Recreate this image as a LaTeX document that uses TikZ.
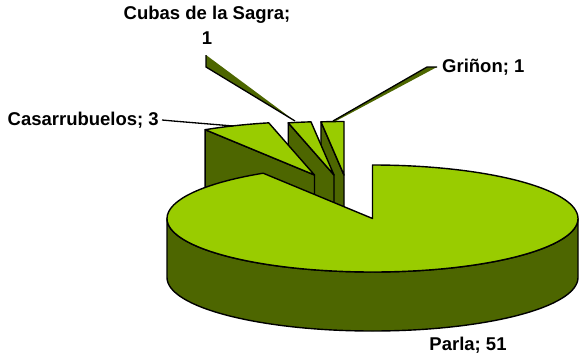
\documentclass[tikz,border=0pt]{standalone}
\usepackage{fontspec}
\setmainfont{Liberation Sans}
\usetikzlibrary{calc}

\definecolor{pielight}{HTML}{99CC00}
\definecolor{piedark}{HTML}{4D6600}

\tikzset{
  lite/.style={fill=pielight, draw=black, line width=1.4pt, line join=round},
  dark/.style={fill=piedark, draw=black, line width=1.4pt, line join=round},
  leader/.style={draw=black, line width=1.3pt, line join=round},
  lbl/.style={font=\bfseries\fontsize{18.5}{25}\selectfont, inner sep=0pt, align=center}
}

% apex, start angle, end angle of an exploded slice
\newcommand{\pieslice}[3]{%
  \draw[dark] (#1) -- ++(#3:205.5 and 53.5) -- ++(0,-59) -- ($(#1)+(0,-59)$) -- cycle;
  \draw[lite] (#1) -- ++(#2:205.5 and 53.5) arc[start angle=#2, end angle=#3, x radius=205.5, y radius=53.5] -- cycle;
}

\begin{document}
\begin{tikzpicture}[x=1pt, y=1pt]
\useasboundingbox (0,0) rectangle (580,357);

\coordinate (ctr) at (372.5,138.5);
\coordinate (griA) at (344,182);
\coordinate (cubA) at (334,182);
\coordinate (casA) at (314.5,182);

% small slices, back to front
\pieslice{griA}{90}{96.43}
\pieslice{cubA}{96.43}{102.86}
\pieslice{casA}{102.86}{122.14}

% Parla
\draw[dark] (ctr) ++(180:205.5 and 53.5) arc[start angle=180, end angle=360, x radius=205.5, y radius=53.5]
  -- ++(0,-59) arc[start angle=360, end angle=180, x radius=205.5, y radius=53.5] -- cycle;
\draw[lite] (ctr) -- ++(0,53.5) arc[start angle=90, end angle=-237.86, x radius=205.5, y radius=53.5] -- cycle;

% labels
\node[lbl, anchor=east] (cas) at (159,237) {Casarrubuelos; 3};
\node[lbl] (cub) at (207,331.5) {Cubas de la Sagra;\\1};
\node[lbl, anchor=west] (gri) at (442,290) {Griñon; 1};
\node[lbl] (par) at (468,12) {Parla; 51};

% leaders
\coordinate (casKnee) at (173,236);
\coordinate (casEnd) at (233,231);
\draw[leader] ([xshift=3pt]cas.east) -- (casKnee) -- (casEnd);

\coordinate (cubTop) at (206,302);
\coordinate (cubKnee) at (206,290);
\coordinate (cubEnd) at (295,236);
\fill[piedark] (cubTop) -- (cubKnee) -- (cubEnd) -- cycle;
\draw[leader] (cubTop) -- (cubKnee) -- (cubEnd);

\coordinate (griKnee) at (427,290);
\coordinate (griEnd) at (333,236);
\fill[piedark] ([xshift=-5pt]gri.west) -- (griKnee) -- (griEnd) -- ++(3,0) -- cycle;
\draw[leader] ([xshift=-5pt]gri.west) -- (griKnee) -- (griEnd);

\end{tikzpicture}
\end{document}
